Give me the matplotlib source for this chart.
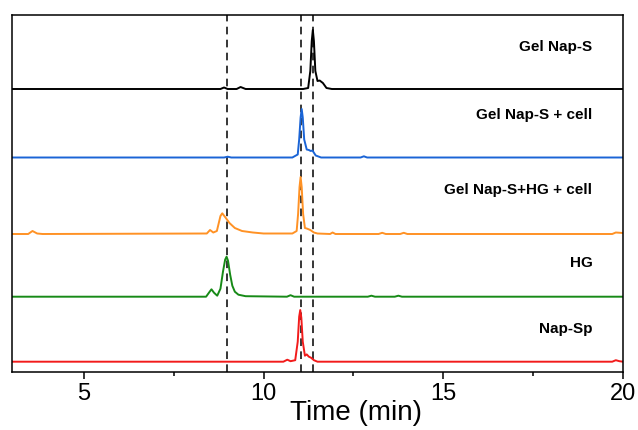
import matplotlib
matplotlib.use("Agg")
import matplotlib.pyplot as plt
from matplotlib.ticker import MultipleLocator

plt.rcParams['font.family'] = ['Liberation Sans', 'DejaVu Sans']

# trace data (time in min, signal in arbitrary units)
black_t = [3.0, 8.8, 8.9, 9.0, 9.25, 9.36, 9.5, 11.1, 11.24, 11.3, 11.34, 11.37, 11.4,
           11.44, 11.5, 11.56, 11.65, 11.75, 11.9, 20.0]
black_y = [0, 0, 1.5, 0, 0, 2, 0, 0, 1, 18, 48, 59, 48, 18, 8, 8.5, 6, 1, 0, 0]

blue_t = [3.0, 8.9, 9.0, 9.1, 10.8, 10.95, 10.99, 11.03, 11.06, 11.09, 11.13, 11.2, 11.26,
          11.31, 11.36, 11.45, 11.6, 12.7, 12.79, 12.88, 20.0]
blue_y = [0, 0, 0.8, 0, 0, 3, 18, 40, 48.5, 40, 18, 8, 7.5, 6.5, 7, 2, 0, 0, 1.2, 0, 0]

orange_t = [3.0, 3.45, 3.57, 3.7, 3.85, 8.42, 8.51, 8.6, 8.7, 8.8, 8.85, 8.95, 9.05, 9.2,
            9.4, 9.7, 10.0, 10.8, 10.92, 10.96, 11.0, 11.03, 11.06, 11.1, 11.15, 11.2,
            11.3, 11.4, 11.5, 11.85, 11.92, 12.0, 13.2, 13.3, 13.4, 13.8, 13.9, 14.0,
            19.7, 19.8, 20.0]
orange_y = [0, 0, 3, 0.5, 0, 0.5, 4, 1.5, 3, 18, 20.7, 16, 11, 6, 3, 1.5, 0.5, 0.5, 3, 20,
            47, 57, 47, 20, 6, 5.5, 4, 1.5, 0.5, 0, 1.5, 0, 0, 1.2, 0, 0, 1.2, 0, 0, 1.5, 1]

green_t = [3.0, 8.4, 8.5, 8.55, 8.62, 8.71, 8.8, 8.87, 8.93, 8.97, 9.01, 9.07, 9.13, 9.2,
           9.3, 9.5, 10.65, 10.75, 10.85, 12.9, 13.0, 13.1, 13.65, 13.75, 13.85, 20.0]
green_y = [0, 0, 5, 7.4, 4, 1, 8, 25, 37, 40, 36, 22, 11, 5, 2, 0.5, 0, 1.5, 0, 0, 1, 0,
           0, 1, 0, 0]

red_t = [3.0, 10.55, 10.66, 10.75, 10.88, 10.95, 10.99, 11.02, 11.05, 11.09, 11.15, 11.2,
         11.26, 11.32, 11.4, 11.5, 19.7, 19.8, 19.9, 20.0]
red_y = [0, 0, 2, 0.5, 1.5, 20, 45, 51.7, 44, 20, 6, 7.3, 5, 4, 1.5, 0, 0, 1.5, 0.5, 0]

labels = ['Gel Nap-S', 'Gel Nap-S + cell', 'Gel Nap-S+HG + cell', 'HG', 'Nap-Sp']
ref_times = [8.98, 11.04, 11.37]

# stacking of the traces
offsets = [283, 214.5, 138, 75.3, 10.3]
label_y = [325.3, 257, 182, 108.7, 42.7]
colors = ['black', '#1a64d6', '#ff9225', '#178a17', '#f21b1b']

traces = [(black_t, black_y), (blue_t, blue_y), (orange_t, orange_y),
          (green_t, green_y), (red_t, red_y)]

fig = plt.figure(figsize=(6.38, 4.30), dpi=100)
ax = fig.add_axes([12 / 638, 58 / 430, 611 / 638, 357 / 430])

for (t, y), off, color in zip(traces, offsets, colors):
    ax.plot(t, [v + off for v in y], color=color, lw=1.4)

for rt in ref_times:
    ax.axvline(rt, color='black', lw=1.1, ls=(0, (5, 3.5)), zorder=0)

for lab, ly in zip(labels, label_y):
    ax.text(19.15, ly, lab, ha='right', va='center', fontsize=11, fontweight='bold')

ax.set_xlim(3, 20)
ax.set_ylim(0, 357)
ax.set_yticks([])
ax.xaxis.set_major_locator(MultipleLocator(5))
ax.xaxis.set_minor_locator(MultipleLocator(2.5))
ax.tick_params(axis='x', which='major', length=5, width=1.1, labelsize=17, pad=3)
ax.tick_params(axis='x', which='minor', length=3, width=1.1)
for sp in ax.spines.values():
    sp.set_linewidth(1.1)

ax.set_xlabel('Time (min)', fontsize=20)
ax.xaxis.set_label_coords(0.563, -0.078)

fig.savefig('out.png', dpi=100)
